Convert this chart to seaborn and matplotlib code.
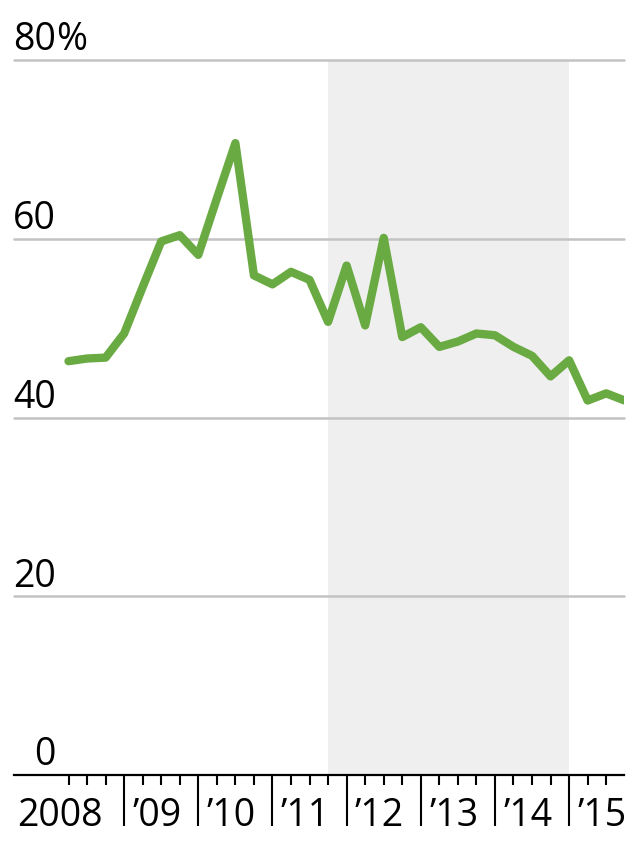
import matplotlib
matplotlib.use('Agg')
import matplotlib.pyplot as plt
import matplotlib.transforms as mtransforms
import seaborn as sns
import pandas as pd

# quarterly share
quarters = pd.period_range('2008Q1', '2015Q3', freq='Q')
share = [46.3, 46.6, 46.7, 49.4, 54.6, 59.7, 60.4, 58.2, 64.5, 70.7,
         55.9, 54.9, 56.3, 55.4, 50.7, 57.0, 50.3, 60.1, 49.0, 50.1,
         47.9, 48.5, 49.4, 49.2, 47.9, 46.9, 44.6, 46.4, 41.9, 42.7, 41.9]
y_ticks = [0, 20, 40, 60, 80]
years = [2008, 2009, 2010, 2011, 2012, 2013, 2014, 2015]
year_labels = ['2008', '\u201909', '\u201910', '\u201911', '\u201912',
               '\u201913', '\u201914', '\u201915']
shade_start, shade_end = 2011.75, 2015.0

df = pd.DataFrame({'t': [q.year + q.quarter / 4 for q in quarters],
                   'share': share})

sns.set_style('white')
plt.rcParams['font.family'] = ['Open Sans', 'DejaVu Sans']
fs = 27

fig = plt.figure(figsize=(6.27, 8.6), dpi=100)
ax = fig.add_axes([14/627, 85/860, 610/627, 715/860])

ax.axvspan(shade_start, shade_end, color='#efefef', lw=0, zorder=0)
for v in y_ticks[1:]:
    ax.axhline(v, color='#c3c3c3', lw=1.8, zorder=1, clip_on=False)

sns.lineplot(data=df, x='t', y='share', ax=ax, color='#6aaa42', lw=6,
             zorder=3)

ax.set_xlim(2007.515, 2015.74)
ax.set_ylim(0, 80)
ax.set_xlabel('')
ax.set_ylabel('')
ax.set_yticks([])

for s in ['top', 'right', 'left']:
    ax.spines[s].set_visible(False)
ax.spines['bottom'].set_color('black')
ax.spines['bottom'].set_linewidth(1.6)
ax.spines['bottom'].set_zorder(4)

ax.set_xticks(years[1:])
ax.set_xticks([y + q / 4 for y in years for q in (1, 2, 3) if y + q / 4 < 2015.7],
              minor=True)
ax.tick_params(axis='x', which='both', bottom=True, direction='out',
               color='black', width=1.5)
ax.tick_params(axis='x', which='major', length=37, labelbottom=False)
ax.tick_params(axis='x', which='minor', length=7)

# y labels, right aligned above their gridlines
ytr = mtransforms.blended_transform_factory(ax.transAxes, ax.transData)
off = mtransforms.ScaledTranslation(0, 7/72, fig.dpi_scale_trans)
lx = 42/610
for v in y_ticks:
    ax.text(lx, v, str(v), transform=ytr + off, ha='right', va='baseline',
            fontsize=fs, color='black')
ax.text(lx, 80, '%', transform=ytr + off, ha='left', va='baseline',
        fontsize=fs, color='black')

# x labels, to the right of the year ticks
xtr = mtransforms.blended_transform_factory(ax.transData, ax.transAxes)
for yr, lab in zip(years, year_labels):
    if yr == 2008:
        x0 = 2007.515
        dx = 2/72
    else:
        x0 = yr
        dx = 6/72
    o = mtransforms.ScaledTranslation(dx, -37/72, fig.dpi_scale_trans)
    ax.text(x0, 0, lab, transform=xtr + o, ha='left', va='baseline',
            fontsize=fs, color='black')

fig.savefig('out.png', dpi=100)
